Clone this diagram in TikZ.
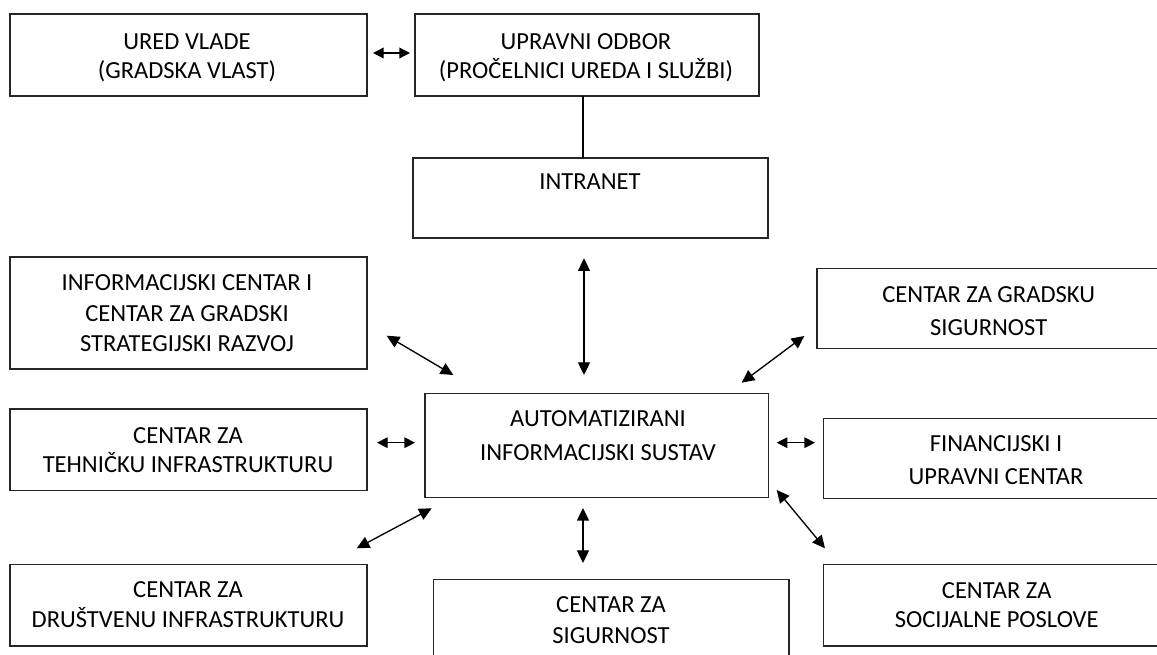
\documentclass[tikz,border=0pt]{standalone}
\usepackage{fontspec}
\setmainfont{Carlito}
\usetikzlibrary{arrows.meta}
\begin{document}
\begin{tikzpicture}[x=0.75pt,y=-0.75pt,
  box/.style={draw=black!85, line width=0.9pt, rectangle, inner sep=0pt, outer sep=0pt},
  txt/.style={inner sep=0pt, outer sep=0pt, anchor=base, font=\fontsize{18.4}{22}\selectfont, text=black},
  conn/.style={draw=black, line width=1pt},
  dbl/.style={conn, {Triangle[length=9.5pt,width=9pt]}-{Triangle[length=9.5pt,width=9pt]}},
  dbls/.style={conn, {Triangle[length=8pt,width=8pt]}-{Triangle[length=8pt,width=8pt]}}]
\useasboundingbox (0,0) rectangle (1157,655);
\clip (0,0) rectangle (1157,655);
\fill[white] (0,0) rectangle (1157,655);

% boxes
\node[box, minimum width=267.75pt, minimum height=61.5pt] (uv) at (188.5,55) {};
\node[box, minimum width=258pt, minimum height=61.5pt] (uo) at (587,55) {};
\node[box, minimum width=266.25pt, minimum height=60pt] (in) at (590.5,198) {};
\node[box, minimum width=267.75pt, minimum height=84pt] (ic) at (188.5,313) {};
\node[box, minimum width=272.25pt, minimum height=60.3pt] (gs) at (998.5,308.5) {};
\node[box, minimum width=257.5pt, minimum height=78.15pt] (au) at (596.7,445.4) {};
\node[box, minimum width=267.75pt, minimum height=61.3pt] (th) at (188.5,449.85) {};
\node[box, minimum width=267.4pt, minimum height=60pt] (fi) at (1001.75,458.3) {};
\node[box, minimum width=267.75pt, minimum height=61.3pt] (dr) at (188.5,605.15) {};
\node[box, minimum width=266.8pt, minimum height=90.5pt] (si) at (611.15,639.65) {};
\node[box, minimum width=267.5pt, minimum height=61.3pt] (so) at (1001.65,605.15) {};

% texts
\node[txt] (uv1) at (187,49.3) {URED VLADE};
\node[txt] (uv2) at (187,78.7) {(GRADSKA VLAST)};
\node[txt] (uo1) at (586,49.3) {UPRAVNI ODBOR};
\node[txt] (uo2) at (586,78.7) {(PROČELNICI UREDA I SLUŽBI)};
\node[txt] (in1) at (590,189.3) {INTRANET};
\node[txt] (ic1) at (187,291) {INFORMACIJSKI CENTAR I};
\node[txt] (ic2) at (187,321.7) {CENTAR ZA GRADSKI};
\node[txt] (ic3) at (187,351.7) {STRATEGIJSKI RAZVOJ};
\node[txt] (gs1) at (988.7,302.3) {CENTAR ZA GRADSKU};
\node[txt] (gs2) at (988.7,336) {SIGURNOST};
\node[txt] (au1) at (598,427) {AUTOMATIZIRANI};
\node[txt] (au2) at (598,461) {INFORMACIJSKI SUSTAV};
\node[txt] (th1) at (188,443.3) {CENTAR ZA};
\node[txt] (th2) at (188,472.3) {TEHNIČKU INFRASTRUKTURU};
\node[txt] (fi1) at (996,451.7) {FINANCIJSKI I};
\node[txt] (fi2) at (996,485) {UPRAVNI CENTAR};
\node[txt] (dr1) at (188,597.3) {CENTAR ZA};
\node[txt] (dr2) at (188,627.3) {DRUŠTVENU INFRASTRUKTURU};
\node[txt] (si1) at (611,613) {CENTAR ZA};
\node[txt] (si2) at (611,643) {SIGURNOST};
\node[txt] (so1) at (996.7,598.3) {CENTAR ZA};
\node[txt] (so2) at (996.7,627.3) {SOCIJALNE POSLOVE};

% connector end points
\coordinate (a1s) at (373,53);    \coordinate (a1e) at (410,53);
\coordinate (lx) at (583,0);
\coordinate (a2s) at (584,258.3); \coordinate (a2e) at (584,375);
\coordinate (a3s) at (386.7,335.7); \coordinate (a3e) at (453.3,375);
\coordinate (a4s) at (741.7,382.7); \coordinate (a4e) at (804.3,336);
\coordinate (a5s) at (377,442.7); \coordinate (a5e) at (415,442.7);
\coordinate (a6s) at (776.7,442.7); \coordinate (a6e) at (815,442.7);
\coordinate (a7s) at (356.7,548.3); \coordinate (a7e) at (431.7,508.3);
\coordinate (a8s) at (583,508);   \coordinate (a8e) at (583,563);
\coordinate (a9s) at (776.7,490); \coordinate (a9e) at (825,548.3);

% connectors
\draw[dbls] (a1s) -- (a1e);
\draw[conn] (lx |- uo.south) -- (lx |- in.north);
\draw[dbl] (a2s) -- (a2e);
\draw[dbl] (a3s) -- (a3e);
\draw[dbl] (a4s) -- (a4e);
\draw[dbls] (a5s) -- (a5e);
\draw[dbls] (a6s) -- (a6e);
\draw[dbl] (a7s) -- (a7e);
\draw[dbl] (a8s) -- (a8e);
\draw[dbl] (a9s) -- (a9e);
\end{tikzpicture}
\end{document}
